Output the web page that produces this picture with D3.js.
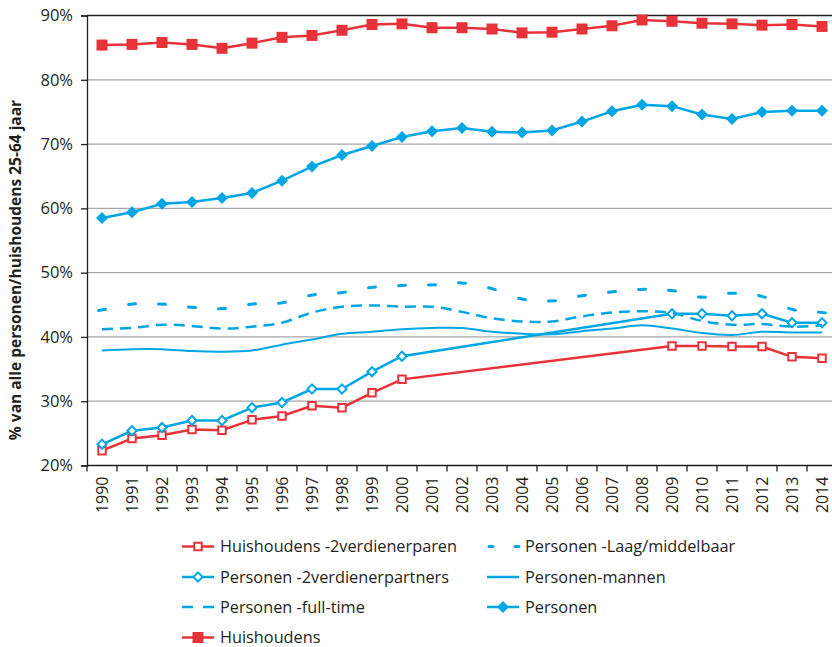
<!DOCTYPE html>
<html>
<head>
<meta charset="utf-8">
<script src="https://cdn.jsdelivr.net/npm/d3@7"></script>
<style>
  body { margin: 0; background: #fff; }
  text { font-family: "Open Sans", sans-serif; fill: #231f20; }
</style>
</head>
<body>
<script>
'use strict';

// categories and tick values
const years = [1990, 1991, 1992, 1993, 1994, 1995, 1996, 1997, 1998, 1999, 2000, 2001, 2002,
  2003, 2004, 2005, 2006, 2007, 2008, 2009, 2010, 2011, 2012, 2013, 2014];
const yTicks = [20, 30, 40, 50, 60, 70, 80, 90];

// series values (percent), null = no observation
const huishoudens2verdiener = [22.3, 24.2, 24.7, 25.6, 25.5, 27.1, 27.7, 29.3, 29.0, 31.3, 33.4,
  null, null, null, null, null, null, null, null, 38.6, 38.6, 38.5, 38.5, 36.9, 36.7];
const personen2verdiener = [23.3, 25.4, 25.9, 27.0, 27.0, 29.0, 29.8, 31.9, 31.9, 34.6, 37.0,
  null, null, null, null, null, null, null, null, 43.6, 43.6, 43.3, 43.6, 42.2, 42.2];
const personenFulltime = [41.2, 41.4, 41.9, 41.7, 41.3, 41.6, 42.2, 43.8, 44.7, 44.9, 44.7,
  44.7, 43.9, 42.9, 42.4, 42.4, 43.2, 43.8, 44.0, 43.7, 42.5, 41.9, 42.0, 41.6, 41.8];
const huishoudens = [85.4, 85.5, 85.8, 85.5, 84.9, 85.7, 86.6, 86.9, 87.7, 88.6, 88.7,
  88.1, 88.1, 87.9, 87.3, 87.4, 87.9, 88.4, 89.3, 89.1, 88.8, 88.7, 88.5, 88.6, 88.3];
const personenLaag = [44.2, 45.1, 45.1, 44.6, 44.4, 45.1, 45.3, 46.5, 46.9, 47.7, 48.0,
  48.1, 48.4, 47.5, 45.9, 45.6, 46.4, 47.0, 47.4, 47.2, 46.2, 46.8, 46.3, 44.3, 43.8];
const personenMannen = [37.9, 38.1, 38.1, 37.8, 37.7, 37.9, 38.8, 39.6, 40.5, 40.8, 41.2,
  41.4, 41.4, 40.8, 40.5, 40.4, 40.9, 41.3, 41.8, 41.3, 40.6, 40.3, 40.8, 40.7, 40.7];
const personen = [58.5, 59.4, 60.7, 61.0, 61.6, 62.4, 64.3, 66.5, 68.3, 69.7, 71.1,
  72.0, 72.5, 71.9, 71.8, 72.1, 73.5, 75.1, 76.1, 75.9, 74.6, 73.9, 75.0, 75.2, 75.2];

const RED = '#e7323a';
const BLUE = '#00a5e3';

// series table built from the arrays above
const series = [
  { name: 'Huishoudens -2verdienerparen', values: huishoudens2verdiener, color: RED, marker: 'squareOpen', style: 'solid', width: 2.5, smooth: false, col: 0, row: 0 },
  { name: 'Personen -2verdienerpartners', values: personen2verdiener, color: BLUE, marker: 'diamondOpen', style: 'solid', width: 2.5, smooth: false, col: 0, row: 1 },
  { name: 'Personen -full-time', values: personenFulltime, color: BLUE, marker: null, style: 'dash', width: 2.5, smooth: true, col: 0, row: 2 },
  { name: 'Personen -Laag/middelbaar', values: personenLaag, color: BLUE, marker: null, style: 'dot', width: 3, smooth: true, col: 1, row: 0 },
  { name: 'Personen-mannen', values: personenMannen, color: BLUE, marker: null, style: 'solid', width: 2, smooth: true, col: 1, row: 1 },
  { name: 'Personen', values: personen, color: BLUE, marker: 'diamond', style: 'solid', width: 2.5, smooth: false, col: 1, row: 2 },
  { name: 'Huishoudens', values: huishoudens, color: RED, marker: 'square', style: 'solid', width: 2.5, smooth: false, col: 0, row: 3 }
];

const svg = d3.select('body').append('svg')
  .attr('width', 832)
  .attr('height', 647);

// scales: the right end of the plot runs off the picture
const x = d3.scaleBand().domain(years).range([87, 837]);
const y = d3.scaleLinear().domain([20, 90]).range([465.5, 15.5]);
const cx = (yr) => x(yr) + x.bandwidth() / 2;

// gridlines
svg.append('g')
  .selectAll('line')
  .data(yTicks.filter((t) => t > 20 && t < 90))
  .enter()
  .append('line')
    .attr('x1', 87).attr('x2', 832)
    .attr('y1', (d) => y(d)).attr('y2', (d) => y(d))
    .style('stroke', '#a6a6a6')
    .style('stroke-width', 1.3);

// top frame line
svg.append('line')
  .attr('x1', 87).attr('x2', 832)
  .attr('y1', y(90)).attr('y2', y(90))
  .style('stroke', '#231f20')
  .style('stroke-width', 1.3);

// y axis
const yAxis = svg.append('g')
  .attr('transform', 'translate(87,0)')
  .call(d3.axisLeft(y).tickValues(yTicks).tickSize(6).tickPadding(8).tickFormat((d) => d + '%'));
yAxis.select('.domain').style('stroke', '#231f20').style('stroke-width', 1.3);
yAxis.selectAll('line').style('stroke', '#231f20').style('stroke-width', 1.3);
yAxis.selectAll('text').style('font-size', '16.5px').style('font-family', '"Open Sans", sans-serif').style('fill', '#231f20');

// x axis with ticks between the categories
const xAxis = svg.append('g')
  .attr('transform', 'translate(0,' + y(20) + ')')
  .call(d3.axisBottom(x).tickSize(0));
xAxis.select('.domain').attr('d', 'M87,0H832').style('stroke', '#231f20').style('stroke-width', 1.3);
xAxis.selectAll('text')
  .attr('transform', 'rotate(-90)')
  .attr('x', -11)
  .attr('y', 0)
  .attr('dy', '0.36em')
  .style('text-anchor', 'end')
  .style('font-size', '16px')
  .style('font-family', '"Open Sans", sans-serif')
  .style('fill', '#231f20');
xAxis.append('g')
  .selectAll('line')
  .data(years)
  .enter()
  .append('line')
    .attr('x1', (d) => x(d)).attr('x2', (d) => x(d))
    .attr('y1', 0).attr('y2', 6)
    .style('stroke', '#231f20')
    .style('stroke-width', 1.3);

// y axis title
svg.append('text')
  .attr('transform', 'translate(21,270)rotate(-90)')
  .style('text-anchor', 'middle')
  .style('font-size', '15.5px')
  .style('font-weight', 'bold')
  .text('% van alle personen/huishoudens 25-64 jaar');

// marker shapes
function markerPath(kind) {
  if (kind === 'square') return d3.symbol(d3.symbolSquare, 121)();
  if (kind === 'squareOpen') return d3.symbol(d3.symbolSquare, 56)();
  if (kind === 'diamond') return d3.symbol(d3.symbolSquare, 72)();
  if (kind === 'diamondOpen') return d3.symbol(d3.symbolSquare, 42)();
  return null;
}
function drawMarker(g, kind, color, px, py) {
  const rot = kind.indexOf('diamond') === 0 ? ' rotate(45)' : '';
  const open = kind.indexOf('Open') > 0;
  g.append('path')
    .attr('d', markerPath(kind))
    .attr('transform', 'translate(' + px + ',' + py + ')' + rot)
    .style('fill', open ? '#fff' : color)
    .style('stroke', color)
    .style('stroke-width', open ? 2 : 0);
}

// lines and markers
const plot = svg.append('g');
series.forEach((s) => {
  const pts = years.map((yr, i) => ({ yr: yr, v: s.values[i] })).filter((d) => d.v !== null);
  const line = d3.line()
    .x((d) => cx(d.yr))
    .y((d) => y(d.v))
    .curve(s.smooth ? d3.curveCatmullRom.alpha(0.5) : d3.curveLinear);

  if (s.style === 'dot') {
    // short dashes centred on each year
    pts.forEach((d, i) => {
      const a = pts[Math.max(0, i - 1)], b = pts[Math.min(pts.length - 1, i + 1)];
      let dx = cx(b.yr) - cx(a.yr), dy = y(b.v) - y(a.v);
      const len = Math.sqrt(dx * dx + dy * dy);
      dx /= len; dy /= len;
      plot.append('line')
        .attr('x1', cx(d.yr) - dx * 3.5).attr('y1', y(d.v) - dy * 3.5)
        .attr('x2', cx(d.yr) + dx * 3.5).attr('y2', y(d.v) + dy * 3.5)
        .style('stroke', s.color)
        .style('stroke-width', s.width)
        .style('stroke-linecap', 'round');
    });
    return;
  }

  plot.append('path')
    .datum(pts)
    .attr('d', line)
    .style('fill', 'none')
    .style('stroke', s.color)
    .style('stroke-width', s.width)
    .style('stroke-dasharray', s.style === 'dash' ? '11,7' : null);

  if (s.marker) {
    pts.forEach((d) => drawMarker(plot, s.marker, s.color, cx(d.yr), y(d.v)));
  }
});

// legend
const legend = svg.append('g');
const colX = [182, 487];
const rowY = [546.5, 577, 607, 637.5];
series.forEach((s) => {
  const lx = colX[s.col], ly = rowY[s.row];
  const g = legend.append('g');
  if (s.style === 'dot') {
    [lx + 2, lx + 28].forEach((dx) => {
      g.append('line')
        .attr('x1', dx).attr('x2', dx + 4)
        .attr('y1', ly).attr('y2', ly)
        .style('stroke', s.color).style('stroke-width', 3).style('stroke-linecap', 'round');
    });
  } else {
    g.append('line')
      .attr('x1', lx).attr('x2', lx + 32)
      .attr('y1', ly).attr('y2', ly)
      .style('stroke', s.color)
      .style('stroke-width', 2.5)
      .style('stroke-dasharray', s.style === 'dash' ? '11,10' : null);
  }
  if (s.marker) drawMarker(g, s.marker, s.color, lx + 16, ly);
  g.append('text')
    .attr('x', lx + 38)
    .attr('y', ly)
    .attr('dy', '0.35em')
    .style('font-size', '16.3px')
    .text(s.name);
});
</script>
</body>
</html>
